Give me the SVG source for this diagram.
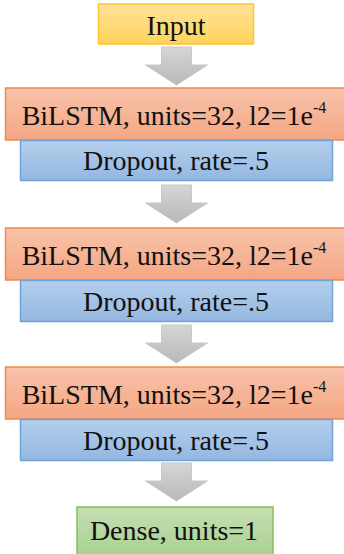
<svg xmlns="http://www.w3.org/2000/svg" width="344" height="554" viewBox="0 0 344 554">
  <defs>
    <linearGradient id="gYellow" x1="0" y1="0" x2="0" y2="1">
      <stop offset="0" stop-color="#FFE29A"/>
      <stop offset="1" stop-color="#FFD459"/>
    </linearGradient>
    <linearGradient id="gOrange" x1="0" y1="0" x2="0" y2="1">
      <stop offset="0" stop-color="#F8C3AA"/>
      <stop offset="1" stop-color="#F4A683"/>
    </linearGradient>
    <linearGradient id="gBlue" x1="0" y1="0" x2="0" y2="1">
      <stop offset="0" stop-color="#B4CFEC"/>
      <stop offset="1" stop-color="#94B7E1"/>
    </linearGradient>
    <linearGradient id="gGreen" x1="0" y1="0" x2="0" y2="1">
      <stop offset="0" stop-color="#C4DEB3"/>
      <stop offset="1" stop-color="#A9D18E"/>
    </linearGradient>
    <linearGradient id="gGray" x1="0" y1="0" x2="0" y2="1">
      <stop offset="0" stop-color="#D6D6D6"/>
      <stop offset="1" stop-color="#B8B8B8"/>
    </linearGradient>
    <!-- block arrow pointing down, origin at the top-middle of the shaft -->
    <path id="blockArrow" d="M-15,0 H15 V18 H31 L0,38 L-31,18 H-15 Z"/>
  </defs>
  <style>
    .lbl { font-family: "Liberation Serif", "Times New Roman", serif; font-size: 28px; fill: #111; text-anchor: middle; }
    .sup { font-size: 16px; }
    .input { fill: url(#gYellow); stroke: #FFC52E; stroke-width: 1.5; }
    .lstm { fill: url(#gOrange); stroke: #EE8A4E; stroke-width: 1.5; }
    .drop { fill: url(#gBlue); stroke: #6FA3DA; stroke-width: 1.5; }
    .dense { fill: url(#gGreen); stroke: #86BD62; stroke-width: 1.5; }
    .arrow { fill: url(#gGray); stroke: #C8C8C8; stroke-width: 1; }
  </style>
  <rect width="344" height="554" fill="#ffffff"/>

  <g id="connectors">
    <use href="#blockArrow" class="arrow" x="176.5" y="47"/>
    <use href="#blockArrow" class="arrow" x="176.5" y="185"/>
    <use href="#blockArrow" class="arrow" x="176.5" y="325"/>
    <use href="#blockArrow" class="arrow" x="176.5" y="463"/>
  </g>

  <g id="input">
    <rect class="input" x="98.5" y="4" width="155" height="40"/>
    <text class="lbl" x="176" y="35">Input</text>
  </g>

  <g id="bilstm1">
    <rect class="lstm" x="5.5" y="88" width="345" height="52"/>
    <text class="lbl" x="174" y="125">BiLSTM, units=32, l2=1e<tspan class="sup" dy="-12">-4</tspan></text>
  </g>
  <g id="dropout1">
    <rect class="drop" x="20.5" y="140.5" width="312" height="40"/>
    <text class="lbl" x="176" y="170">Dropout, rate=.5</text>
  </g>

  <g id="bilstm2">
    <rect class="lstm" x="5.5" y="228" width="345" height="52"/>
    <text class="lbl" x="174" y="265">BiLSTM, units=32, l2=1e<tspan class="sup" dy="-12">-4</tspan></text>
  </g>
  <g id="dropout2">
    <rect class="drop" x="20.5" y="280.5" width="312" height="41"/>
    <text class="lbl" x="176" y="311">Dropout, rate=.5</text>
  </g>

  <g id="bilstm3">
    <rect class="lstm" x="5.5" y="367" width="345" height="52"/>
    <text class="lbl" x="174" y="404">BiLSTM, units=32, l2=1e<tspan class="sup" dy="-12">-4</tspan></text>
  </g>
  <g id="dropout3">
    <rect class="drop" x="20.5" y="419.5" width="312" height="41"/>
    <text class="lbl" x="176" y="450">Dropout, rate=.5</text>
  </g>

  <g id="dense">
    <rect class="dense" x="77" y="507" width="196" height="52"/>
    <text class="lbl" x="174" y="540">Dense, units=1</text>
  </g>
</svg>
